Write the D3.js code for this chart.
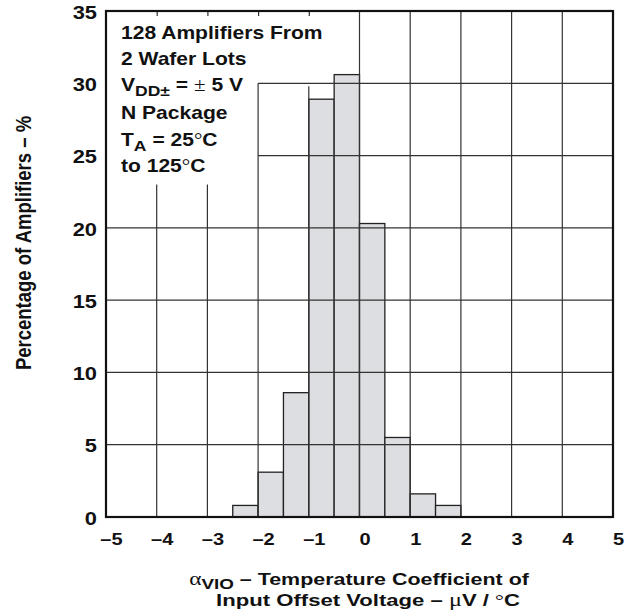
<!DOCTYPE html>
<html>
<head>
<meta charset="utf-8">
<script src="https://cdn.jsdelivr.net/npm/d3@7"></script>
<style>
  body { margin: 0; background: #fff; }
  svg text { font-family: "Liberation Sans", Arial, sans-serif; font-weight: bold; fill: #111; }
  .sym { font-family: "Liberation Serif", "DejaVu Serif", serif; font-weight: normal; }
</style>
</head>
<body>
<div id="chart"></div>
<script>
// histogram bins (lower edge, uV/°C) and percentage of amplifiers
const binStart = [-2.5, -2, -1.5, -1, -0.5, 0, 0.5, 1, 1.5];
const binWidth = 0.5;
const percent = [0.8, 3.1, 8.6, 28.9, 30.6, 20.3, 5.5, 1.6, 0.8];

const xTicks = [-5, -4, -3, -2, -1, 0, 1, 2, 3, 4, 5];
const yTicks = [0, 5, 10, 15, 20, 25, 30, 35];

// grid lines, clipped around the note box
const gridX = [-4, -3, -2, -1, 0, 1, 2, 3, 4];
const gridXTop = [23, 23, 30, 29.8, 35, 35, 35, 35, 35];
const gridY = [5, 10, 15, 20, 25, 30];
const gridYLeft = [-5, -5, -5, -5, -2, -2];

const width = 630, height = 616;
const margin = { top: 11, right: 17, bottom: 99, left: 106 };
const sx = 1.2; // text in the reference is drawn wide

const svg = d3.select("#chart").append("svg")
    .attr("width", width)
    .attr("height", height);

const x = d3.scaleLinear().domain([-5, 5]).range([margin.left, width - margin.right]);
const y = d3.scaleLinear().domain([0, 35]).range([height - margin.bottom, margin.top]);

// bars
svg.append("g").selectAll("rect")
    .data(binStart)
    .enter()
    .append("rect")
    .attr("x", d => x(d))
    .attr("y", (d, i) => y(percent[i]))
    .attr("width", d => x(d + binWidth) - x(d))
    .attr("height", (d, i) => y(0) - y(percent[i]))
    .attr("fill", "#dddee1")
    .attr("stroke", "#222")
    .attr("stroke-width", 1.3);

// grid
const grid = svg.append("g").attr("stroke", "#333").attr("stroke-width", 1.2);
gridX.forEach((v, i) => {
    grid.append("line")
        .attr("x1", x(v)).attr("x2", x(v))
        .attr("y1", y(gridXTop[i])).attr("y2", y(0));
});
gridY.forEach((v, i) => {
    grid.append("line")
        .attr("x1", x(gridYLeft[i])).attr("x2", x(5))
        .attr("y1", y(v)).attr("y2", y(v));
});

// short ticks along top edge
svg.append("g")
    .attr("transform", `translate(0,${y(35)})`)
    .call(d3.axisBottom(x).tickValues([-4, -3, -2, -1]).tickSize(5).tickFormat(""))
    .call(g => g.select(".domain").remove())
    .call(g => g.selectAll("line").attr("stroke", "#333").attr("stroke-width", 1.2));

// frame
svg.append("rect")
    .attr("x", x(-5)).attr("y", y(35))
    .attr("width", x(5) - x(-5)).attr("height", y(0) - y(35))
    .attr("fill", "none")
    .attr("stroke", "#111")
    .attr("stroke-width", 2.2);

// axes labels
const fmt = d => d < 0 ? "\u2013" + Math.abs(d) : String(d);

svg.append("g")
    .attr("transform", `translate(0,${y(0)})`)
    .call(d3.axisBottom(x).tickValues(xTicks).tickSize(0).tickPadding(17).tickFormat(fmt))
    .call(g => g.select(".domain").remove())
    .call(g => g.selectAll("text")
        .attr("transform", "translate(5,0) scale(1.25,1)")
        .style("font-size", "16px"));

svg.append("g")
    .attr("transform", `translate(${x(-5)},0)`)
    .call(d3.axisLeft(y).tickValues(yTicks).tickSize(0).tickPadding(0))
    .call(g => g.select(".domain").remove())
    .call(g => g.selectAll("text")
        .attr("x", 0)
        .attr("dy", "0.38em")
        .attr("transform", "translate(-9,0) scale(1.15,1)")
        .style("font-size", "19px"));

// note box
const note = svg.append("g")
    .attr("transform", `translate(121,0) scale(1.17,1)`)
    .append("text")
    .style("font-size", "18px");
const nl = (yy) => note.append("tspan").attr("x", 0).attr("y", yy);

nl(39).text("128 Amplifiers From");
nl(65).text("2 Wafer Lots");
const l3 = nl(91);
l3.append("tspan").text("V");
l3.append("tspan").attr("dy", 5).style("font-size", "15px").text("DD\u00b1");
l3.append("tspan").attr("dy", -5).text(" = ");
l3.append("tspan").attr("class", "sym").text("\u00b1");
l3.append("tspan").text(" 5 V");
nl(119).text("N Package");
const l5 = nl(146);
l5.append("tspan").text("T");
l5.append("tspan").attr("dy", 5).style("font-size", "15px").text("A");
l5.append("tspan").attr("dy", -5).text(" = 25");
l5.append("tspan").attr("class", "sym").text("\u00b0");
l5.append("tspan").text("C");
const l6 = nl(172);
l6.append("tspan").text("to 125");
l6.append("tspan").attr("class", "sym").text("\u00b0");
l6.append("tspan").text("C");

// x title
const xt1 = svg.append("g")
    .attr("transform", `translate(359,585) scale(1.3,1)`)
    .append("text")
    .attr("text-anchor", "middle")
    .style("font-size", "16.5px");
xt1.append("tspan").attr("class", "sym").style("font-size", "18px").text("\u03b1");
xt1.append("tspan").attr("dy", 4).style("font-size", "14.5px").text("VIO");
xt1.append("tspan").attr("dy", -4).text(" \u2013 Temperature Coefficient of");

const xt2 = svg.append("g")
    .attr("transform", `translate(368,606) scale(1.34,1)`)
    .append("text")
    .attr("text-anchor", "middle")
    .style("font-size", "16.5px");
xt2.append("tspan").text("Input Offset Voltage \u2013 ");
xt2.append("tspan").attr("class", "sym").style("font-size", "18px").text("\u03bc");
xt2.append("tspan").text("V / ");
xt2.append("tspan").attr("class", "sym").text("\u00b0");
xt2.append("tspan").text("C");

// y title
svg.append("text")
    .attr("transform", `translate(31,243) scale(${sx},1) rotate(-90)`)
    .attr("text-anchor", "middle")
    .style("font-size", "18.5px")
    .text("Percentage of Amplifiers \u2013 %");
</script>
</body>
</html>
